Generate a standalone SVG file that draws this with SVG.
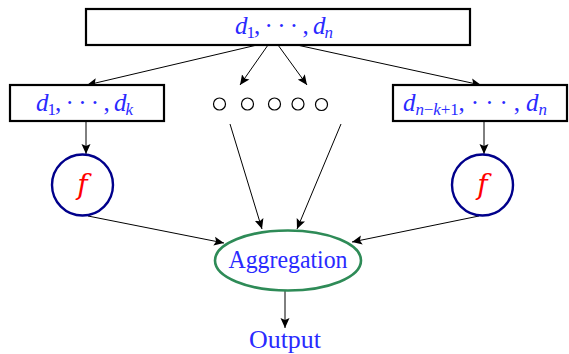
<svg xmlns="http://www.w3.org/2000/svg" width="569" height="354" viewBox="0 0 569 354">
<defs>
<marker id="ah" viewBox="0 0 10 10" refX="10" refY="5" markerWidth="10" markerHeight="10" markerUnits="userSpaceOnUse" orient="auto">
<path d="M0,0.5 L10,5 L0,9.5 L2,5 Z" fill="#000"/>
</marker>
<style>
.box{fill:#fff;stroke:#000;stroke-width:2.2}
.fc{fill:#fff;stroke:#00008b;stroke-width:2.4}
.dot{fill:#fff;stroke:#000;stroke-width:1.2}
.agg{fill:#fff;stroke:#2e8b57;stroke-width:2.6}
.ln{stroke:#000;stroke-width:1;fill:none;marker-end:url(#ah)}
.m{font-family:"Liberation Serif","DejaVu Serif",serif;fill:#2a2aff;font-size:25px}
.i{font-style:italic}
.sub{font-size:17px}
.t{font-family:"Liberation Serif","DejaVu Serif",serif;fill:#2a2aff;font-size:26px}
.f{font-family:"DejaVu Serif","Liberation Serif",serif;fill:#ff0000;font-style:italic;font-size:28px}
</style>
</defs>
<g id="connectors">
<line class="ln" x1="257" y1="45" x2="87" y2="85"/>
<line class="ln" x1="268" y1="45" x2="240" y2="85"/>
<line class="ln" x1="278" y1="45" x2="307" y2="85"/>
<line class="ln" x1="297" y1="45" x2="481" y2="85"/>
<line class="ln" x1="86" y1="121" x2="86" y2="154"/>
<line class="ln" x1="484" y1="121" x2="484" y2="154"/>
<line class="ln" x1="88" y1="216" x2="224" y2="243"/>
<line class="ln" x1="479" y1="216" x2="352" y2="242"/>
<line class="ln" x1="230" y1="124" x2="262" y2="229"/>
<line class="ln" x1="341" y1="124" x2="297" y2="229"/>
<line class="ln" x1="285" y1="291" x2="285" y2="328"/>
</g>
<g id="top">
<rect class="box" x="86" y="9" width="384" height="36"/>
<text class="m" x="235" y="34" textLength="98" lengthAdjust="spacing"><tspan class="i">d</tspan><tspan class="sub" dy="4">1</tspan><tspan dy="-4">, · · · , </tspan><tspan class="i">d</tspan><tspan class="sub i" dy="4">n</tspan></text>
</g>
<g id="left">
<rect class="box" x="10" y="85" width="154" height="36"/>
<text class="m" x="36" y="111" textLength="97" lengthAdjust="spacing"><tspan class="i">d</tspan><tspan class="sub" dy="4">1</tspan><tspan dy="-4">, · · · , </tspan><tspan class="i">d</tspan><tspan class="sub i" dy="4">k</tspan></text>
</g>
<g id="right">
<rect class="box" x="393" y="85" width="174" height="36"/>
<text class="m" x="403" y="111" textLength="144" lengthAdjust="spacing"><tspan class="i">d</tspan><tspan class="sub" dy="4"><tspan class="i">n</tspan>−<tspan class="i">k</tspan>+1</tspan><tspan dy="-4">, · · · , </tspan><tspan class="i">d</tspan><tspan class="sub i" dy="4">n</tspan></text>
</g>
<g id="dots">
<circle class="dot" cx="219.5" cy="104" r="6"/>
<circle class="dot" cx="247.5" cy="104" r="6"/>
<circle class="dot" cx="274.5" cy="104" r="6"/>
<circle class="dot" cx="298" cy="104" r="6"/>
<circle class="dot" cx="321.5" cy="104.5" r="6"/>
</g>
<g id="f-left">
<circle class="fc" cx="82.5" cy="185" r="30.5"/>
<text class="f" x="82.5" y="194" text-anchor="middle">f</text>
</g>
<g id="f-right">
<circle class="fc" cx="482.5" cy="185" r="30.5"/>
<text class="f" x="482.5" y="194" text-anchor="middle">f</text>
</g>
<g id="aggregation">
<ellipse class="agg" cx="288" cy="260.5" rx="73" ry="30"/>
<text class="t" x="288" y="268" text-anchor="middle" textLength="119" lengthAdjust="spacingAndGlyphs">Aggregation</text>
</g>
<g id="output">
<text class="t" x="285" y="348" text-anchor="middle" textLength="72" lengthAdjust="spacingAndGlyphs">Output</text>
</g>
</svg>
